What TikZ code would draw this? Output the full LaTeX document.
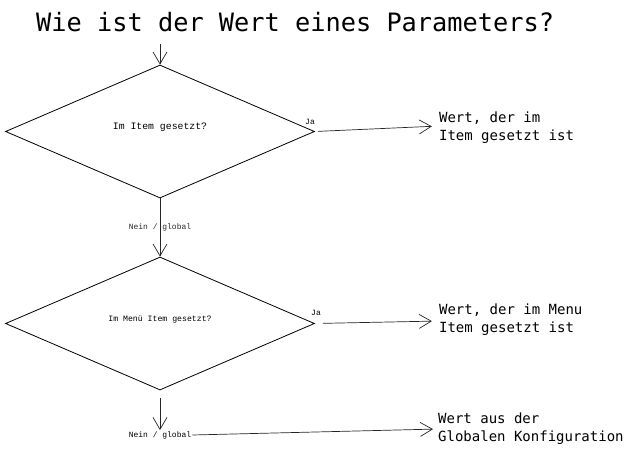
\documentclass[tikz,border=0pt]{standalone}
\usepackage{fontspec}
\newfontfamily\codefont{DejaVu Sans Mono}
\newfontfamily\smallcode{Liberation Mono}
\usepackage{tikz}
\usetikzlibrary{shapes.geometric,arrows.meta,positioning}

\begin{document}
\begin{tikzpicture}[
    x=1pt, y=-1pt,
    decision/.style={diamond, draw, line width=0.8pt, inner sep=0pt, minimum width=309pt, minimum height=133pt, font=\smallcode\fontsize{8.2}{10}\selectfont},
    result/.style={font=\codefont\fontsize{14}{18}\selectfont, align=left, anchor=west, inner sep=0pt},
    arrow/.style={line width=0.7pt, black!85, -{Straight Barb[length=12pt, width=14pt, line width=0.7pt]}},
    label/.style={font=\smallcode\fontsize{8}{9}\selectfont, inner sep=1pt}
]
    \useasboundingbox (0,0) rectangle (630,450);

    % Title
    \node [font=\codefont\fontsize{25.3}{30}\selectfont, anchor=base west, inner sep=0pt] (title) at (36,31) {Wie ist der Wert eines Parameters?};

    % Decisions (stacked vertically)
    \coordinate (start) at (160,44);
    \node [decision] (item) at (160,131.5) {\raisebox{10pt}{\fontsize{9.8}{11}\selectfont Im Item gesetzt?}};
    \node [decision] (menu) at (160,323.5) {\raisebox{10pt}{Im Menü Item gesetzt?}};
    \node [label] (global) at (160,435) {Nein / global};

    % Results
    \node [result, right=124pt of item.east, yshift=4pt] (itemval) {Wert, der im\\Item gesetzt ist};
    \node [result, right=124pt of menu.east, yshift=4pt] (menuval) {Wert, der im Menu\\Item gesetzt ist};
    \node [result] (globalval) at (438,429) {Wert aus der\\Globalen Konfiguration};

    %--- Downward flow ---
    \draw [arrow] (start) -- (item.north);
    \draw [arrow] (item.south) -- node[label] {Nein / global} (menu.north);
    \draw [arrow, shorten <=8pt] (menu.south) -- (global.north);

    %--- Ja branches ---
    \draw [arrow, shorten <=3pt, shorten >=7pt] (item.east) -- (itemval.west |- 0,126);
    \draw [arrow, shorten <=8pt, shorten >=7pt] (menu.east) -- (menuval.west |- 0,321);
    \draw [arrow, shorten >=5pt] (global.east) -- (globalval.west);
    \node [label] (ja1) at (310,122) {Ja};
    \node [label] (ja2) at (316,313) {Ja};

\end{tikzpicture}
\end{document}
